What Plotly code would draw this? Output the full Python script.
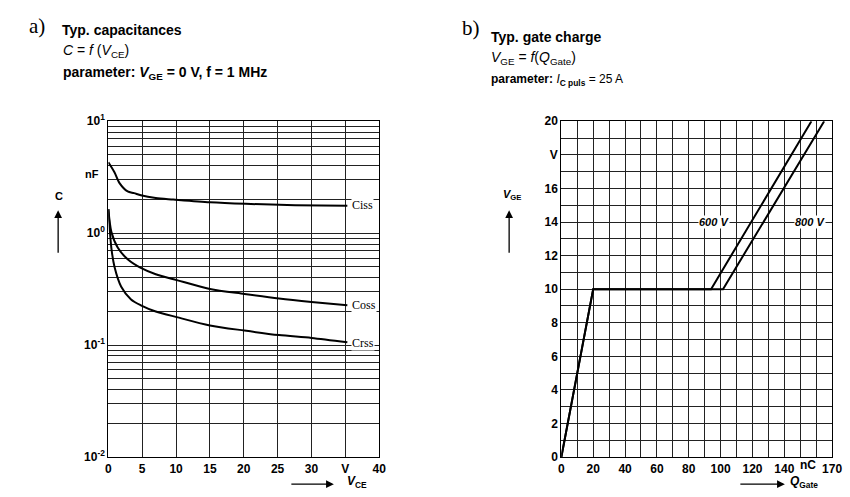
import plotly.graph_objects as go

W, H = 850, 497

# ---------- data: a) typical capacitances ----------
ciss_v = [0, 0.9, 1.65, 2.85, 3.8, 4.8, 7, 9.6, 15, 20.3, 27.6, 35.3]
ciss_c = [4.3, 3.5, 2.8, 2.36, 2.28, 2.18, 2.06, 2.0, 1.89, 1.83, 1.78, 1.76]
coss_v = [0, 0.44, 1.4, 2.85, 4.8, 7, 10.1, 15, 20.1, 25.2, 30, 35.3]
coss_c = [1.64, 1.03, 0.74, 0.586, 0.49, 0.43, 0.381, 0.318, 0.287, 0.261, 0.243, 0.227]
crss_v = [0, 0.44, 0.92, 1.9, 3.35, 4.8, 7, 10.1, 15, 20.1, 25.2, 30, 35.3]
crss_c = [1.64, 0.74, 0.497, 0.333, 0.256, 0.227, 0.2, 0.178, 0.15, 0.135, 0.123, 0.116, 0.106]

a_xticks = [0, 5, 10, 15, 20, 25, 30, 35, 40]
a_xtext = ["0", "5", "10", "15", "20", "25", "30", "V", "40"]
decades = [0.01, 0.1, 1, 10]
decade_text = ["10<sup>-2</sup>", "10<sup>-1</sup>", "10<sup>0</sup>", "10<sup>1</sup>"]

# ---------- data: b) gate charge ----------
q_600 = [0, 20, 94, 157]
v_600 = [0, 10, 10, 20]
q_800 = [0, 20, 101.5, 165]
v_800 = [0, 10, 10, 20]

b_xticks = list(range(0, 171, 10))
b_xlabels = {0: "0", 20: "20", 40: "40", 60: "60", 80: "80", 100: "100",
             120: "120", 140: "140", 170: "170"}
b_yticks = list(range(0, 21, 1))
b_ylabels = {0: "0", 2: "2", 4: "4", 6: "6", 8: "8", 10: "10", 12: "12",
             14: "14", 16: "16", 18: "V", 20: "20"}

# log minor grid values
a_yticks = []
a_ytext = []
for d, t in zip(decades[:-1], decade_text[:-1]):
    for m in range(1, 10):
        a_yticks.append(d * m)
        a_ytext.append(t if m == 1 else "")
a_yticks.append(10)
a_ytext.append(decade_text[-1])

def px(x):
    return x / W

def py(y):
    return 1 - y / H

fig = go.Figure()
line = dict(color="black", width=2)
fig.add_trace(go.Scatter(x=ciss_v, y=ciss_c, mode="lines", line=dict(**line, shape="spline", smoothing=0.8), xaxis="x", yaxis="y"))
fig.add_trace(go.Scatter(x=coss_v, y=coss_c, mode="lines", line=dict(**line, shape="spline", smoothing=0.8), xaxis="x", yaxis="y"))
fig.add_trace(go.Scatter(x=crss_v, y=crss_c, mode="lines", line=dict(**line, shape="spline", smoothing=0.8), xaxis="x", yaxis="y"))
fig.add_trace(go.Scatter(x=q_600, y=v_600, mode="lines", line=line, xaxis="x2", yaxis="y2"))
fig.add_trace(go.Scatter(x=q_800, y=v_800, mode="lines", line=line, xaxis="x2", yaxis="y2"))

tickfont = dict(family="Liberation Sans, Arial", size=12, color="black", weight="bold")
ydom = [py(463), py(116)]
axcommon = dict(showgrid=True, gridcolor="#222", gridwidth=1, showline=True, linecolor="black",
                linewidth=1.2, mirror=True, ticks="", zeroline=False, tickfont=tickfont, fixedrange=True)

fig.update_layout(
    width=W, height=H, margin=dict(l=0, r=0, t=0, b=0),
    paper_bgcolor="white", plot_bgcolor="white", showlegend=False,
    xaxis=dict(domain=[px(107), px(382)], range=[0, 40], tickmode="array",
               tickvals=a_xticks, ticktext=a_xtext, anchor="y", **axcommon),
    yaxis=dict(domain=ydom, type="log", range=[-2, 1], tickmode="array",
               tickvals=a_yticks, ticktext=a_ytext, anchor="x", **axcommon),
    xaxis2=dict(domain=[px(567), px(842)], range=[0, 170], tickmode="array",
                tickvals=b_xticks, ticktext=[b_xlabels.get(v, "") for v in b_xticks],
                anchor="y2", **axcommon),
    yaxis2=dict(domain=ydom, range=[0, 20], tickmode="array",
                tickvals=b_yticks, ticktext=[b_ylabels.get(v, "") for v in b_yticks],
                anchor="x2", **axcommon),
)

ann = []
def text(x, y, s, size=13, family="Liberation Sans, Arial", xanchor="left", bg=None, xref="paper", yref="paper"):
    d = dict(x=x, y=y, xref=xref, yref=yref, text=s, showarrow=False, xanchor=xanchor,
             yanchor="middle", font=dict(family=family, size=size, color="black"))
    if bg:
        d["bgcolor"] = bg
        d["borderpad"] = 0
    ann.append(d)

# titles
text(px(24), py(18), "a)", size=21, family="Liberation Serif, Times New Roman")
text(px(58), py(22), "<b>Typ. capacitances</b>", size=14)
text(px(59), py(43), "<i>C</i> = <i>f</i> (<i>V</i><sub>CE</sub>)", size=14)
text(px(59), py(66), "<b>parameter: <i>V</i><sub>GE</sub> = 0 V, f = 1 MHz</b>", size=14)

text(px(464), py(20), "b)", size=21, family="Liberation Serif, Times New Roman")
text(px(494), py(29), "<b>Typ. gate charge</b>", size=14)
text(px(494), py(51), "<i>V</i><sub>GE</sub> = <i>f</i>(<i>Q</i><sub>Gate</sub>)", size=14)
text(px(494), py(73), "<b>parameter:</b> <i>I</i><sub><b>C puls</b></sub> = 25 A", size=12)

# axis labels
text(px(57), py(193), "<b>C</b>", size=11, xanchor="center")
text(px(100), py(170), "<b>nF</b>", size=11, xanchor="right")
text(px(347), py(489), "<b><i>V</i><sub>CE</sub></b>", size=12)
text(px(517), py(192), "<b><i>V</i><sub>GE</sub></b>", size=11, xanchor="center")
text(px(817), py(471), "<b>nC</b>", size=12, xanchor="center")
text(px(797), py(489), "<b><i>Q</i><sub>Gate</sub></b>", size=12)

# curve labels
text(px(353), py(203), "Ciss", size=12, family="Liberation Serif, Times New Roman", bg="white")
text(px(353), py(306), "Coss", size=12, family="Liberation Serif, Times New Roman", bg="white")
text(px(353), py(345), "Crss", size=12, family="Liberation Serif, Times New Roman", bg="white")
text(96, 14, "<b><i>600 V</i></b>", size=11, xanchor="center", bg="white", xref="x2", yref="y2")
text(156, 14, "<b><i>800 V</i></b>", size=11, xanchor="center", bg="white", xref="x2", yref="y2")

# arrows
def arrow(x, y, ax, ay):
    ann.append(dict(x=px(x), y=py(y), xref="paper", yref="paper", ax=ax, ay=ay,
                    axref="pixel", ayref="pixel", text="", showarrow=True,
                    arrowhead=2, arrowsize=1.2, arrowwidth=1.3, arrowcolor="black"))

arrow(56, 208, 0, 44)
arrow(336, 491, -44, 0)
arrow(794, 491, -46, 0)
arrow(514, 208, 0, 44)

fig.update_layout(annotations=ann)
fig.write_html("out.html", config={"displayModeBar": False},
               post_script="document.body.style.margin='0';")
